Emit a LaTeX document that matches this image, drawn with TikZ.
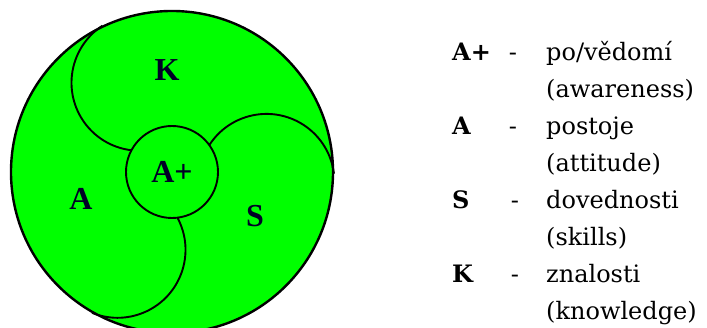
\documentclass[tikz,border=0pt]{standalone}
\usepackage{fontspec}
\setmainfont{DejaVu Serif}
\newfontfamily\lblfont{Liberation Serif}
\usetikzlibrary{positioning}

\begin{document}
\begin{tikzpicture}[x=1pt,y=1pt,part/.style={font=\lblfont\bfseries\fontsize{32}{32}\selectfont,text=black!85!blue,inner sep=0},curve/.style={line width=1.9pt},key/.style={font=\bfseries\fontsize{24}{24}\selectfont,anchor=base west,inner sep=0},sep/.style={font=\fontsize{24}{24}\selectfont,anchor=base,inner sep=0},desc/.style={font=\fontsize{24}{24}\selectfont,anchor=base west,inner sep=0}]
\useasboundingbox (-172,-156) rectangle (535,172);
% wheel
\coordinate (O) at (0,0);
\fill[green] (O) circle[radius=161];
\draw[curve,rotate=110] (95,0) ++(153:68) arc[start angle=153,end angle=13,radius=68];
\draw[curve,rotate=-6] (95,0) ++(153:68) arc[start angle=153,end angle=13,radius=68];
\draw[curve,rotate=235] (95,0) ++(153:68) arc[start angle=153,end angle=13,radius=68];
\node[circle,draw,fill=green,line width=1.9pt,minimum size=92,part] (awr) at (O) {A+};
\draw[line width=2.4pt] (O) circle[radius=161];
\node[part] (knw) at (-5,102) {K};
\node[part] (att) at (-91,-27) {A};
\node[part] (skl) at (83,-44) {S};
% legend
\node[key] (keyAp) at (280,111) {A+};\node[sep] (sepAp) at (341,111) {-};\node[desc] (descAp) at (374,111) {po/vědomí};\node[desc] (engAp) at (374,74) {(awareness)};
\node[key] (keyA) at (280,37) {A};\node[sep] (sepA) at (341,37) {-};\node[desc] (descA) at (374,37) {postoje};\node[desc] (engA) at (374,0) {(attitude)};
\node[key] (keyS) at (280,-37) {S};\node[sep] (sepS) at (343,-37) {-};\node[desc] (descS) at (374,-37) {dovednosti};\node[desc] (engS) at (374,-74) {(skills)};
\node[key] (keyK) at (280,-111) {K};\node[sep] (sepK) at (343,-111) {-};\node[desc] (descK) at (374,-111) {znalosti};\node[desc] (engK) at (374,-148) {(knowledge)};
\end{tikzpicture}
\end{document}
